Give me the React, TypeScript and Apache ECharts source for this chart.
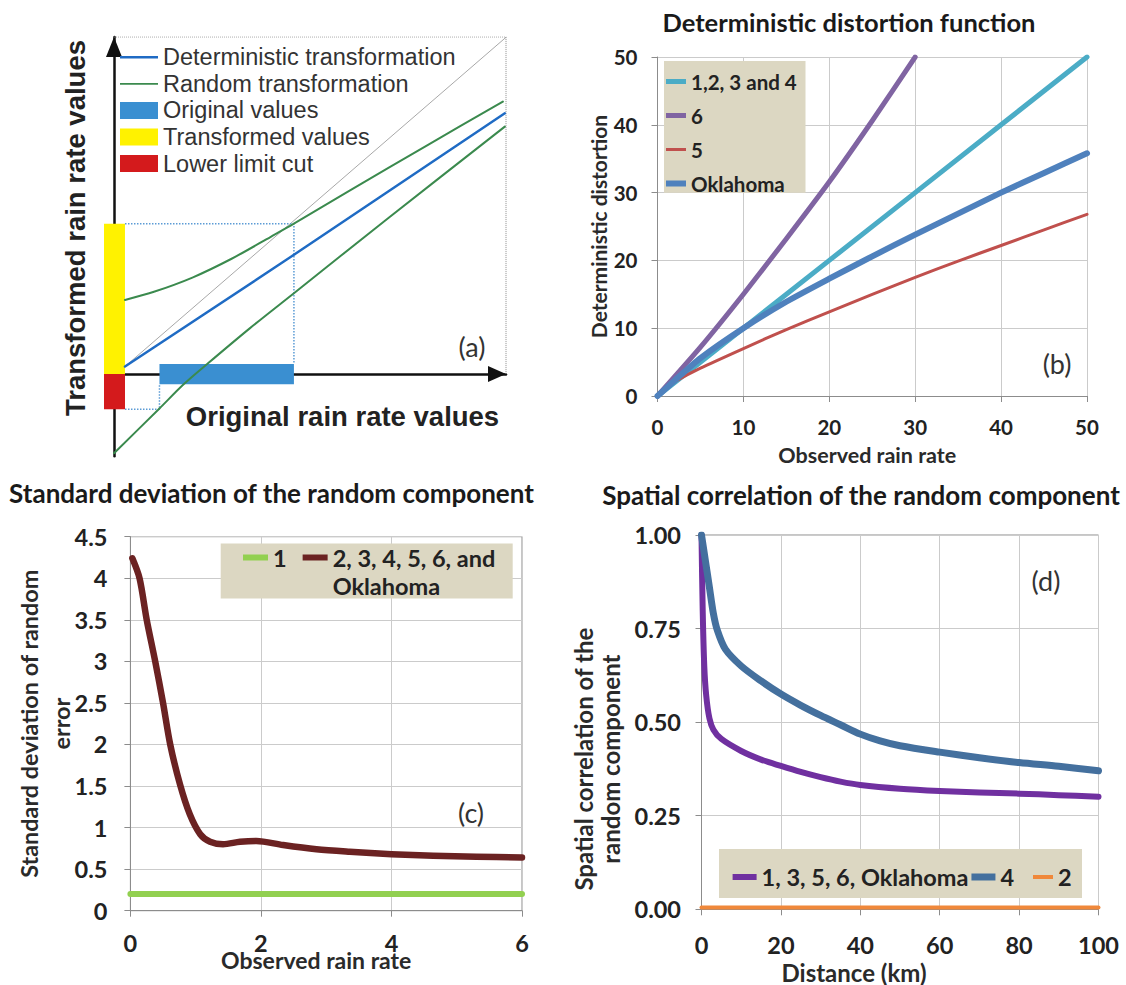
import React, { useEffect, useRef } from 'react';
import * as echarts from 'echarts';

// ---------- Panel (a): schematic (abstract units, x 0..100, y -21..86) ----------
const aDiagonal = [[2.8, 1.9], [100, 85.9]];
const aDeterministic = [[2.8, 1.9], [45.9, 30.4], [99.7, 66.5]];
const aRandomUpper = [[2.8, 18.9], [10, 20.9], [20, 24.6], [30, 29.4], [40, 35], [46, 38.4], [60, 46.7], [80, 58.4], [99.2, 69.5]];
const aRandomLower = [[0, -20.2], [11.6, -8.8], [17.7, -2.7], [23.6, 2.4], [34.7, 11.7], [45.9, 20.6], [70, 39.8], [99.7, 63.1]];
const aOriginalBar = [[11.6, -2.6, 45.9, 2.55]];
const aTransformedBar = [[-2.55, 0, 2.8, 38.3]];
const aLowerCutBar = [[-2.55, -9, 2.8, 0]];
const aGuideUpper = [[2.8, 38.3], [45.9, 38.3], [45.9, 2.55]];
const aGuideLower = [[2.8, -9], [11.6, -9], [11.6, -2.6]];
const aFrame = [[0, 86], [100, 86], [100, 0]];

// ---------- Panel (b): deterministic distortion ----------
const bSeries1234 = [[0, 0], [10, 10], [20, 20], [30, 30], [40, 40], [50, 50]];
const bSeries6 = [[0, 0], [5, 7.2], [10, 15], [15, 23.2], [20, 31.6], [25, 40.6], [30, 50]];
const bSeries5 = [[0, 0], [1, 1.2], [2, 2.1], [5, 4.1], [10, 7], [15, 9.8], [20, 12.4], [25, 15], [30, 17.5], [35, 19.9], [40, 22.2], [45, 24.5], [50, 26.8]];
const bOklahoma = [[0, 0], [2, 2.3], [5, 5.6], [10, 10], [15, 13.9], [20, 17.3], [25, 20.6], [30, 23.8], [35, 26.9], [40, 30], [45, 32.9], [50, 35.8]];

// ---------- Panel (c): standard deviation ----------
const cSeries1 = [[0, 0.2], [6, 0.2]];
const cSeriesRest = [[0.03, 4.24], [0.14, 4.0], [0.25, 3.5], [0.38, 3.0], [0.5, 2.5], [0.61, 2.0], [0.76, 1.52], [0.91, 1.16], [1.07, 0.92], [1.22, 0.83], [1.42, 0.8], [1.68, 0.83], [1.93, 0.84], [2.34, 0.79], [2.85, 0.74], [3.36, 0.71], [4.0, 0.68], [4.64, 0.66], [5.3, 0.65], [6, 0.64]];

// ---------- Panel (d): spatial correlation ----------
const dPurple = [[0, 1.0], [0.3, 0.8], [0.7, 0.65], [1.2, 0.57], [2, 0.51], [3, 0.48], [5, 0.455], [10, 0.423], [15, 0.4], [20, 0.383], [25, 0.367], [30, 0.353], [35, 0.341], [40, 0.332], [50, 0.322], [60, 0.316], [70, 0.312], [80, 0.309], [90, 0.305], [100, 0.301]];
const dBlue = [[0, 1.0], [1, 0.93], [2, 0.86], [3, 0.79], [4, 0.745], [6, 0.695], [10, 0.65], [15, 0.61], [20, 0.575], [25, 0.545], [30, 0.518], [35, 0.493], [40, 0.468], [45, 0.45], [50, 0.437], [60, 0.42], [70, 0.405], [80, 0.392], [90, 0.382], [100, 0.37]];
const dOrange = [[0, 0.005], [100, 0.005]];

// Titles
const titles = ['Deterministic distortion function', 'Standard deviation of the random component', 'Spatial correlation of the random component'];
const cLongName = '2, 3, 4, 5, 6, and\nOklahoma';

const LATO = 'Lato, "Open Sans", sans-serif';
const ARIAL = '"Liberation Sans", Arial, sans-serif';

const tickText = (size: number) => ({ fontFamily: LATO, fontWeight: 'bold' as const, fontSize: size, color: '#222' });
const nameText = (size: number, lineHeight: number, padding?: number[]) => ({
  fontFamily: LATO, fontWeight: 'bold' as const, fontSize: size, color: '#2a2a2a', lineHeight, padding,
});
const gridAxisLine = { show: true, lineStyle: { color: '#8c8c8c', width: 1 } };
const gridAxisTick = { show: true, length: 6, lineStyle: { color: '#8c8c8c' } };
const gridSplit = { show: true, lineStyle: { color: '#cbcbcb', width: 1 } };

const rectRender = (params: any, api: any) => {
  const p1 = api.coord([api.value(0), api.value(1)]);
  const p2 = api.coord([api.value(2), api.value(3)]);
  return {
    type: 'rect',
    shape: { x: Math.min(p1[0], p2[0]), y: Math.min(p1[1], p2[1]), width: Math.abs(p2[0] - p1[0]), height: Math.abs(p2[1] - p1[1]) },
    style: { fill: api.visual('color') },
  };
};

const lineSeries = (name: string | undefined, data: number[][], color: string, width: number, xi: number, extra: any = {}) => ({
  type: 'line', name, data, xAxisIndex: xi, yAxisIndex: xi, color,
  showSymbol: false, symbol: 'none', lineStyle: { color, width, cap: 'round', join: 'round' }, ...extra,
});

const iconPath = (w: number, h: number) => `path://M0 0H${w}V${h}H0Z`;
const centered = { align: 'center', verticalAlign: 'middle', textAlign: 'center', textVerticalAlign: 'middle' };

function buildOption(): any {
  return {
    animation: false,
    backgroundColor: '#ffffff',
    title: [
      { text: titles[0], left: 849, top: 21.7, textAlign: 'center', textVerticalAlign: 'middle', padding: 0, textStyle: { fontFamily: LATO, fontWeight: 'bold', fontSize: 25.5, color: '#1a1a1a' } },
      { text: titles[1], left: 271.5, top: 493, textAlign: 'center', textVerticalAlign: 'middle', padding: 0, textStyle: { fontFamily: LATO, fontWeight: 'bold', fontSize: 26, color: '#1a1a1a' } },
      { text: titles[2], left: 861, top: 495, textAlign: 'center', textVerticalAlign: 'middle', padding: 0, textStyle: { fontFamily: LATO, fontWeight: 'bold', fontSize: 26, color: '#1a1a1a' } },
    ],
    grid: [
      { left: 114, top: 36.9, width: 392, height: 419.4 },
      { left: 657.5, top: 57, width: 429.5, height: 339 },
      { left: 130.4, top: 536.7, width: 391.6, height: 374, show: true, borderColor: '#8c8c8c', borderWidth: 1 },
      { left: 701.5, top: 535, width: 397, height: 374.3, show: true, borderColor: '#8c8c8c', borderWidth: 1 },
    ],
    xAxis: [
      {
        gridIndex: 0, type: 'value', min: 0, max: 100,
        axisLine: { show: true, onZero: true, symbol: ['none', 'triangle'], symbolSize: [16, 18], symbolOffset: [0, -9], lineStyle: { color: '#111', width: 2.5 } },
        axisTick: { show: false }, axisLabel: { show: false }, splitLine: { show: false },
      },
      {
        gridIndex: 1, type: 'value', min: 0, max: 50, interval: 10,
        name: 'Observed rain rate', nameLocation: 'middle', nameGap: 48, nameMoveOverlap: false, nameTextStyle: nameText(21.5, 22, [0, 10, 0, 0]),
        axisLine: gridAxisLine, axisTick: gridAxisTick, splitLine: gridSplit,
        axisLabel: { ...tickText(20.5), margin: 20.5 },
      },
      {
        gridIndex: 2, type: 'value', min: 0, max: 6, interval: 2,
        name: 'Observed rain rate', nameLocation: 'middle', nameGap: 37.3, nameMoveOverlap: false, nameTextStyle: nameText(23, 24, [0, 20, 0, 0]),
        axisLine: gridAxisLine, axisTick: gridAxisTick, splitLine: gridSplit,
        axisLabel: { ...tickText(23.5), margin: 20.5 },
      },
      {
        gridIndex: 3, type: 'value', min: 0, max: 100, interval: 20,
        name: 'Distance (km)', nameLocation: 'middle', nameGap: 50.7, nameMoveOverlap: false, nameTextStyle: nameText(24, 24, [0, 92, 0, 0]),
        axisLine: gridAxisLine, axisTick: gridAxisTick, splitLine: gridSplit,
        axisLabel: { ...tickText(23.5), margin: 24 },
      },
    ],
    yAxis: [
      {
        gridIndex: 0, type: 'value', min: -21, max: 86,
        axisLine: { show: true, onZero: true, symbol: ['none', 'triangle'], symbolSize: [16, 20], symbolOffset: [0, -10], lineStyle: { color: '#111', width: 2.5 } },
        axisTick: { show: false }, axisLabel: { show: false }, splitLine: { show: false },
      },
      {
        gridIndex: 1, type: 'value', min: 0, max: 50, interval: 10,
        name: 'Deterministic distortion', nameLocation: 'middle', nameGap: 48.5, nameMoveOverlap: false, nameTextStyle: nameText(21, 22),
        axisLine: gridAxisLine, axisTick: gridAxisTick, splitLine: gridSplit,
        axisLabel: { ...tickText(20.5), margin: 20 },
      },
      {
        gridIndex: 2, type: 'value', min: 0, max: 4.5, interval: 0.5,
        name: 'Standard deviation of random\nerror', nameLocation: 'middle', nameGap: 53.5, nameMoveOverlap: false, nameTextStyle: nameText(23.4, 32),
        axisLine: gridAxisLine, axisTick: gridAxisTick, splitLine: gridSplit,
        axisLabel: { ...tickText(23.5), margin: 23 },
      },
      {
        gridIndex: 3, type: 'value', min: 0, max: 1, interval: 0.25,
        name: 'Spatial correlation of the\nrandom component', nameLocation: 'middle', nameGap: 77.5, nameMoveOverlap: false, nameTextStyle: nameText(24, 27, [0, 74, 0, 0]),
        axisLine: gridAxisLine, axisTick: gridAxisTick, splitLine: gridSplit,
        axisLabel: { ...tickText(23.5), margin: 20.5, formatter: (v: number) => v.toFixed(2) },
      },
    ],
    legend: [
      {
        orient: 'vertical', left: 120, top: 45.2, padding: 0, itemWidth: 38, itemHeight: 17, itemGap: 2.6,
        textStyle: { fontFamily: ARIAL, fontSize: 23.5, color: '#333', lineHeight: 23 },
        data: [
          { name: 'Deterministic transformation', icon: iconPath(38, 2.5) },
          { name: 'Random transformation', icon: iconPath(38, 1.8) },
          { name: 'Original values', icon: 'rect' },
          { name: 'Transformed values', icon: 'rect' },
          { name: 'Lower limit cut', icon: 'rect' },
        ],
      },
      {
        orient: 'vertical', left: 666, top: 71, padding: 0, itemWidth: 20, itemHeight: 8, itemGap: 13,
        textStyle: { fontFamily: LATO, fontWeight: 'bold', fontSize: 20.5, color: '#222', lineHeight: 20 },
        data: [
          { name: '1,2, 3 and 4', icon: iconPath(20, 5) },
          { name: '6', icon: iconPath(20, 5) },
          { name: '5', icon: iconPath(20, 3) },
          { name: 'Oklahoma', icon: iconPath(20, 6) },
        ],
      },
      {
        orient: 'horizontal', left: 243, top: 515.5, padding: 0, itemWidth: 25, itemHeight: 8, itemGap: 16,
        textStyle: { fontFamily: LATO, fontWeight: 'bold', fontSize: 23.5, color: '#222', lineHeight: 28 },
        formatter: (name: string) => (name === cLongName ? '\n' + name : name),
        data: [
          { name: '1', icon: iconPath(25, 6) },
          { name: cLongName, icon: iconPath(25, 6) },
        ],
      },
      {
        orient: 'horizontal', left: 732.6, top: 865, padding: 0, itemWidth: 24, itemHeight: 8, itemGap: 3,
        textStyle: { fontFamily: LATO, fontWeight: 'bold', fontSize: 23.5, color: '#222', lineHeight: 24 },
        data: [
          { name: '1, 3, 5, 6, Oklahoma', icon: iconPath(24, 6) },
          { name: '4', icon: iconPath(24, 7) },
        ],
      },
      {
        orient: 'horizontal', left: 1033, top: 865, padding: 0, itemWidth: 20, itemHeight: 8,
        textStyle: { fontFamily: LATO, fontWeight: 'bold', fontSize: 23.5, color: '#222', lineHeight: 24 },
        data: [{ name: '2', icon: iconPath(20, 4) }],
      },
    ],
    graphic: [
      { type: 'rect', z: 1, shape: { x: 664, y: 61, width: 141.5, height: 131.7 }, style: { fill: '#dcd7c2' } },
      { type: 'rect', z: 1, shape: { x: 220.7, y: 543.5, width: 292, height: 55 }, style: { fill: '#dcd7c2' } },
      { type: 'rect', z: 1, shape: { x: 719, y: 849, width: 363, height: 49 }, style: { fill: '#dcd7c2' } },
      { type: 'text', z: 10, x: 75, y: 228, rotation: Math.PI / 2, style: { text: 'Transformed rain rate values', font: `bold 27.5px ${ARIAL}`, fill: '#222', ...centered } },
      { type: 'text', z: 10, x: 342.5, y: 416.7, style: { text: 'Original rain rate values', font: `bold 27.5px ${ARIAL}`, fill: '#222', ...centered } },
      { type: 'text', z: 10, x: 472, y: 346, style: { text: '(a)', font: `27px ${LATO}`, fill: '#333', ...centered } },
      { type: 'text', z: 10, x: 1057, y: 363, style: { text: '(b)', font: `27px ${LATO}`, fill: '#333', ...centered } },
      { type: 'text', z: 10, x: 471, y: 812, style: { text: '(c)', font: `27px ${LATO}`, fill: '#333', ...centered } },
      { type: 'text', z: 10, x: 1046, y: 580, style: { text: '(d)', font: `27px ${LATO}`, fill: '#333', ...centered } },
    ],
    series: [
      // panel (a)
      { type: 'custom', name: 'Original values', xAxisIndex: 0, yAxisIndex: 0, itemStyle: { color: '#3a8fd1' }, data: aOriginalBar, encode: { x: [0, 2], y: [1, 3] }, renderItem: rectRender },
      { type: 'custom', name: 'Transformed values', xAxisIndex: 0, yAxisIndex: 0, itemStyle: { color: '#fff200' }, data: aTransformedBar, encode: { x: [0, 2], y: [1, 3] }, renderItem: rectRender },
      { type: 'custom', name: 'Lower limit cut', xAxisIndex: 0, yAxisIndex: 0, itemStyle: { color: '#d41a1c' }, data: aLowerCutBar, encode: { x: [0, 2], y: [1, 3] }, renderItem: rectRender },
      lineSeries(undefined, aDiagonal, '#a8a8a8', 1, 0),
      lineSeries(undefined, aGuideUpper, '#5b9bd5', 1.5, 0, { lineStyle: { color: '#5b9bd5', width: 1.5, type: 'dotted' } }),
      lineSeries(undefined, aGuideLower, '#5b9bd5', 1.5, 0, { lineStyle: { color: '#5b9bd5', width: 1.5, type: 'dotted' } }),
      lineSeries(undefined, aFrame, '#8c8c8c', 1, 0, { lineStyle: { color: '#8c8c8c', width: 1, type: 'dotted' } }),
      lineSeries('Random transformation', aRandomUpper, '#3b8a4e', 2, 0, { smooth: 0.3 }),
      lineSeries('Random transformation', aRandomLower, '#3b8a4e', 2, 0, { smooth: 0.3 }),
      lineSeries('Deterministic transformation', aDeterministic, '#1f6bc4', 2.5, 0),
      // panel (b)
      lineSeries('1,2, 3 and 4', bSeries1234, '#4bacc6', 5, 1),
      lineSeries('6', bSeries6, '#8064a2', 5, 1, { smooth: 0.2 }),
      lineSeries('5', bSeries5, '#c0504d', 3, 1, { smooth: 0.2 }),
      lineSeries('Oklahoma', bOklahoma, '#4f81bd', 6, 1, { smooth: 0.2 }),
      // panel (c)
      lineSeries('1', cSeries1, '#92d050', 6, 2),
      lineSeries(cLongName, cSeriesRest, '#6b2222', 6.5, 2, { smooth: 0.3 }),
      // panel (d)
      lineSeries('1, 3, 5, 6, Oklahoma', dPurple, '#7030a0', 6, 3, { smooth: 0.3 }),
      lineSeries('4', dBlue, '#44709e', 7, 3, { smooth: 0.3 }),
      lineSeries('2', dOrange, '#f0883a', 4, 3),
    ],
  };
}

export default function App() {
  const ref = useRef<HTMLDivElement>(null);
  useEffect(() => {
    if (!ref.current) return;
    const chart = echarts.init(ref.current, undefined, { renderer: 'svg' });
    chart.setOption(buildOption());
    return () => chart.dispose();
  }, []);
  return <div ref={ref} style={{ position: 'absolute', left: 0, top: 0, width: 1126, height: 985 }} />;
}
